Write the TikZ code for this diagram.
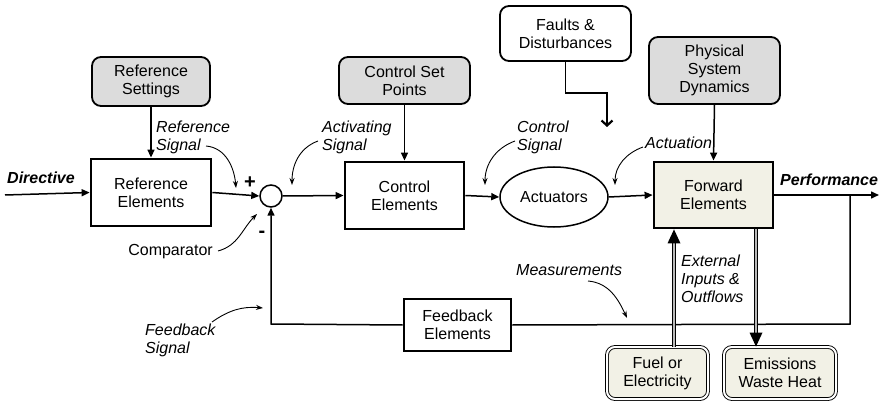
\documentclass[tikz,border=0pt]{standalone}
\usepackage{fontspec}
\setmainfont{Liberation Sans}
\usetikzlibrary{arrows.meta,shapes.geometric,calc}
\definecolor{boxgray}{RGB}{220,220,220}
\definecolor{beige}{RGB}{242,241,230}
\begin{document}
\begin{tikzpicture}[x=1pt,y=-1pt,
  every node/.style={font=\fontsize{16}{18}\selectfont, align=center, inner sep=0pt},
  thickbox/.style={draw, line width=2.8pt, minimum width=#1},
  setbox/.style={draw, line width=1.8pt, rounded corners=9pt, fill=boxgray},
  dblbox/.style={draw, line width=0.9pt, double=white, double distance=2pt, rounded corners=8pt, fill=beige},
  conn/.style={line width=1.5pt, -{Triangle[length=8pt,width=7pt]}},
  line/.style={line width=1.5pt},
  lbl/.style={font=\fontsize{16}{18}\selectfont\itshape, align=left, anchor=west},
  curv/.style={line width=0.9pt, -{Stealth[length=7pt,width=5pt]}},
  dbl/.style={line width=1pt, double=gray!55, double distance=2.6pt}
]
\useasboundingbox (0,0) rectangle (879,401);

% nodes
\node[setbox, minimum width=118pt, minimum height=49pt] (refset) at (151,81.5) {Reference\\Settings};
\node[thickbox=120pt, minimum height=67pt, fill=white] (refel) at (151,192.5) {Reference\\Elements};
\node[draw, circle, line width=1.5pt, minimum size=22pt] (cmp) at (271,196) {};
\node[setbox, minimum width=131pt, minimum height=47pt] (ctrlsp) at (404.5,80.5) {Control Set\\Points};
\node[thickbox=119pt, minimum height=67pt] (ctrlel) at (404.5,195.5) {Control\\Elements};
\node[draw, ellipse, line width=1.5pt, minimum width=108pt, minimum height=60pt] (act) at (554,197) {Actuators};
\node[draw, line width=1.8pt, rounded corners=9pt, minimum width=131pt, minimum height=55pt] (faults) at (565.5,33.5) {Faults \&\\Disturbances};
\node[setbox, minimum width=131pt, minimum height=67pt] (phys) at (714.5,70.5) {Physical\\System\\Dynamics};
\node[thickbox=119pt, minimum height=66pt, fill=beige] (fwd) at (713.5,195) {Forward\\Elements};
\node[thickbox=107pt, minimum height=52pt] (fb) at (457.5,325) {Feedback\\Elements};
\node[dblbox, minimum width=101pt, minimum height=52pt] (fuel) at (657.5,373) {Fuel or\\Electricity};
\node[dblbox, minimum width=112pt, minimum height=52pt] (emis) at (780,373) {Emissions\\Waste Heat};

% coordinates
\coordinate (dirstart) at (5,195);
\coordinate (perfend) at (879,195);
\coordinate (tap) at (850,195);
\coordinate (fbline) at (850,324);
\coordinate (fbleft) at (271,324);
\coordinate (fcorner1) at (565.5,93);
\coordinate (fcorner2) at (607,93);
\coordinate (fend) at (607,127);
\coordinate (fuelx) at ($(fwd.south)+(-39.5,0)$);
\coordinate (emisx) at ($(fwd.south)+(42.5,0)$);

% main connectors
\draw[conn] (dirstart) -- (refel.west);
\draw[conn] (refel.east) -- (cmp.west);
\draw[conn] (cmp.east) -- (ctrlel.west);
\draw[conn] (ctrlel.east) -- (act.west);
\draw[conn] (act.east) -- (fwd.west);
\draw[conn] (fwd.east) -- (perfend);
\draw[conn] (refset.south) -- (refel.north);
\draw[conn] (ctrlsp.south) -- (ctrlel.north);
\draw[conn] (phys.south) -- (fwd.north);
\draw[line] (tap) -- (fbline) -- (fb.east);
\draw[conn] (fb.west) -- (fbleft) -- (cmp.south);
\draw[line width=1.5pt, -{Straight Barb[length=5pt,width=11pt,line width=2.2pt]}] (faults.south) -- (fcorner1) -- (fcorner2) -- (fend);

% double arrows
\draw[dbl] (fuelx |- fuel.north) -- ($(fuelx)+(0,10)$);
\fill (fuelx) -- ++(-6.5,14) -- ++(13,0) -- cycle;
\draw[dbl] (emisx) -- ($(emisx |- emis.north)+(0,-10)$);
\fill (emisx |- emis.north) -- ++(-6.5,-14) -- ++(13,0) -- cycle;

% labels
\node[font=\fontsize{16}{18}\selectfont\bfseries\itshape, anchor=west] (dirl) at (7,178) {Directive};
\node[font=\fontsize{16}{18}\selectfont\bfseries\itshape, anchor=west] (perfl) at (780,180) {Performance};
\node[lbl] (refsig) at (156,137) {Reference\\Signal};
\node[font=\fontsize{20}{20}\selectfont\bfseries] (plus) at (250,183) {+};
\node[font=\fontsize{20}{20}\selectfont\bfseries] (minus) at (262,234) {-};
\node[font=\fontsize{16}{18}\selectfont, anchor=east] (cmpl) at (213,252) {Comparator};
\node[lbl] (fbsig) at (145,340) {Feedback\\Signal};
\node[lbl] (actsig) at (322,137) {Activating\\Signal};
\node[lbl] (ctrlsig) at (517,137) {Control\\Signal};
\node[lbl] (actn) at (645,143) {Actuation};
\node[lbl] (meas) at (516,270) {Measurements};
\node[lbl] (ext) at (681,279) {External\\Inputs \&\\Outflows};

% curved pointers
\coordinate (p1) at (236,188);
\coordinate (p2) at (257,214);
\coordinate (p3) at (292,185);
\coordinate (p4) at (485,185);
\coordinate (p5) at (615,185);
\coordinate (p6) at (263,308);
\coordinate (p7) at (627,318);
\draw[curv] (206,146) to[out=-5,in=95] (p1);
\draw[curv] (218,251) to[out=15,in=225] (p2);
\draw[curv] (318,141) to[out=200,in=90] (p3);
\draw[curv] (515,141) to[out=200,in=90] (p4);
\draw[curv] (643,147) to[out=200,in=90] (p5);
\draw[curv] (212,322) to[out=35,in=175] (p6);
\draw[curv] (588,281) to[out=-5,in=115] (p7);
\end{tikzpicture}
\end{document}
